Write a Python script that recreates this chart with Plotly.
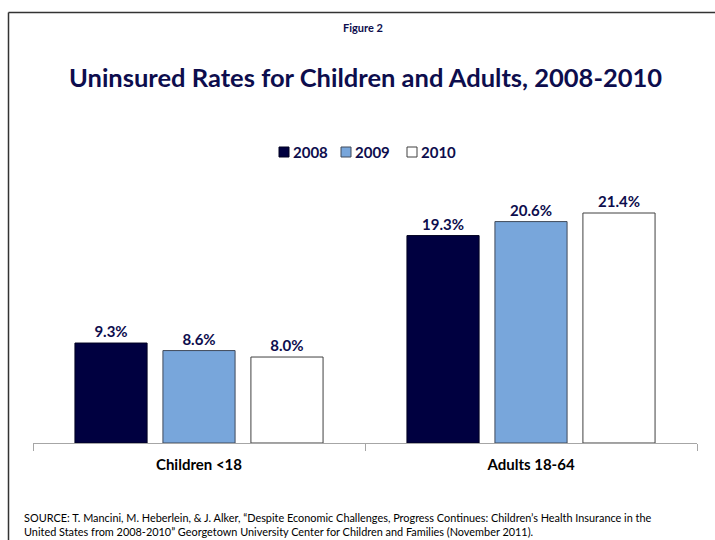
import plotly.graph_objects as go

categories = ["Children <18", "Adults 18-64"]
years = ["2008", "2009", "2010"]
values = {
    "2008": [9.3, 19.3],
    "2009": [8.6, 20.6],
    "2010": [8.0, 21.4],
}
fills = {"2008": "#000040", "2009": "#78A6DB", "2010": "#FFFFFF"}
outlines = {"2008": "#000020", "2009": "#404a5a", "2010": "#404040"}

FONT = "Lato"
NAVY = "#0D0D4D"

L, T, W, H = 33, 180, 664, 263


def px(x):
    return (x - L) / W


def py(y):
    return (T + H - y) / H


fig = go.Figure()
for y in years:
    fig.add_trace(go.Bar(
        name=y,
        x=categories,
        y=values[y],
        marker=dict(color=fills[y], line=dict(color=outlines[y], width=1)),
        text=[f"{v:.1f}%" for v in values[y]],
        textposition="outside",
        textfont=dict(family=FONT, size=15, color=NAVY, weight="bold"),
        cliponaxis=False,
        showlegend=False,
    ))

# custom legend (squares + labels)
legend_sq_x = {"2008": 279, "2009": 341, "2010": 407}
shapes = [
    dict(type="line", xref="paper", yref="paper",
         x0=px(8.5), x1=px(8.5), y0=py(12.5), y1=-0.5,
         line=dict(color="#333333", width=1.5)),
    dict(type="line", xref="paper", yref="paper",
         x0=px(8.5), x1=1.1, y0=py(12.5), y1=py(12.5),
         line=dict(color="#333333", width=1.5)),
]
annotations = [
    dict(text="<b>Figure 2</b>", xref="paper", yref="paper",
         x=px(363), y=py(28), xanchor="center", yanchor="middle",
         showarrow=False, font=dict(family=FONT, size=11, color=NAVY)),
    dict(text="<b>Uninsured Rates for Children and Adults, 2008-2010</b>",
         xref="paper", yref="paper",
         x=px(365), y=py(77), xanchor="center", yanchor="middle",
         showarrow=False, font=dict(family=FONT, size=25.5, color=NAVY)),
    dict(text="SOURCE: T. Mancini, M. Heberlein, &amp; J. Alker, \u201cDespite Economic Challenges, Progress Continues: Children\u2019s Health Insurance in the<br>"
              "United States from 2008-2010\u201d Georgetown University Center for Children and Families (November 2011).",
         xref="paper", yref="paper",
         x=px(22), y=py(524), xanchor="left", yanchor="middle",
         align="left", showarrow=False,
         font=dict(family=FONT, size=10.9, color="#000000")),
]
for y in years:
    x0 = legend_sq_x[y]
    shapes.append(dict(type="rect", xref="paper", yref="paper",
                       x0=px(x0), x1=px(x0 + 10), y0=py(157), y1=py(147),
                       fillcolor=fills[y], line=dict(color=outlines[y], width=1)))
    annotations.append(dict(text=f"<b>{y}</b>", xref="paper", yref="paper",
                            x=px(x0 + 12), y=py(152), xanchor="left", yanchor="middle",
                            showarrow=False,
                            font=dict(family=FONT, size=15, color=NAVY)))

fig.update_layout(
    width=715, height=540,
    paper_bgcolor="white", plot_bgcolor="white",
    margin=dict(l=L, r=715 - L - W, t=T, b=540 - T - H),
    barmode="group",
    bargap=0.205,
    bargroupgap=0.18,
    font=dict(family=FONT),
    showlegend=False,
    xaxis=dict(
        showline=True, linecolor="#A6A6A6", linewidth=1,
        ticks="outside", tickson="boundaries", ticklen=7, tickcolor="#A6A6A6",
        tickfont=dict(family=FONT, size=15, color="#000000", weight="bold"),
        ticklabelstandoff=8,
        showgrid=False,
    ),
    yaxis=dict(
        range=[0, 24.47], visible=False, showgrid=False, zeroline=False,
    ),
    shapes=shapes,
    annotations=annotations,
)

fig.write_html("out.html")
